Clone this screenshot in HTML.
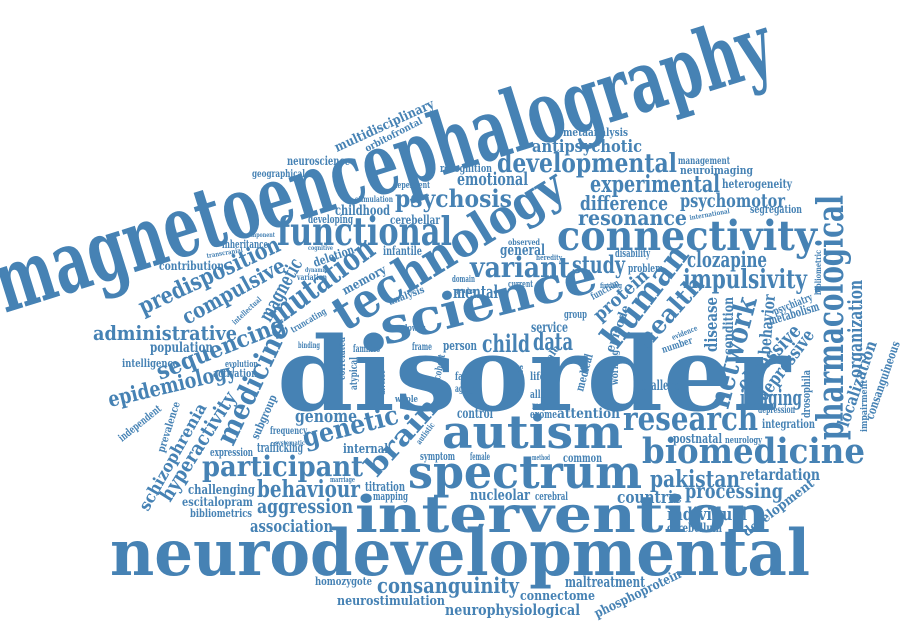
<!DOCTYPE html>
<html>
<head>
<meta charset="utf-8">
<style>
html,body{margin:0;padding:0;background:#fff;}
svg{display:block;}
text{font-family:"DejaVu Serif","Liberation Serif",serif;font-weight:bold;fill:#4682b4;}
</style>
</head>
<body>
<svg id="cloud" width="900" height="625" viewBox="0 0 900 625" xmlns="http://www.w3.org/2000/svg"></svg>
<script>
// words: [text, x1, y1 (baseline start), x2, y2 (baseline end), font size]
const words = [
['magnetoencephalography',5,313,778,70,104],
['disorder',277,410,790,410,125],
['neurodevelopmental',110,575,810,575,78],
['intervention',355,532,770,532,62],
['spectrum',408,488,642,488,56],
['autism',442,448,623,448,56],
['research',623,430,758,430,40],
['biomedicine',642,463,865,463,42],
['connectivity',557,250,817,250,50],
['functional',277,245,452,245,48],
['developmental',497,172,677,172,32],
['experimental',590,192,720,192,28],
['technology',345,332,568,195,58],
['science',385,345,600,290,60],
['human',617,350,690,255,40],
['health',647,350,705,285,30],
['protein',600,322,650,277,22],
['network',728,410,757,300,36],
['disease',717,352,717,297,20],
['condition',733,355,733,297,17],
['behavior',770,355,775,295,20],
['obsessive',745,392,802,332,24],
['depressive',765,402,815,335,22],
['pharmacological',843,440,843,195,44],
['organization',862,378,862,280,24],
['localization',848,428,877,343,20],
['consanguineous',873,420,900,343,15],
['impairment',867,432,867,380,11],
['drosophila',810,418,810,370,13],
['bibliometric',821,295,821,250,10],
['metabolism',770,325,820,310,15],
['psychiatry',775,315,813,300,13],
['imaging',740,405,802,405,26],
['depression',758,413,795,413,12],
['integration',762,428,815,428,15],
['postnatal',673,443,722,443,16],
['neurology',725,443,762,443,11],
['biallelic',642,390,680,390,17],
['pakistan',650,487,740,487,28],
['retardation',740,480,820,480,19],
['processing',685,498,783,498,25],
['countrie',617,503,682,503,20],
['individual',667,520,747,520,22],
['cerebellum',667,532,722,532,15],
['development',747,537,815,485,16],
['maltreatment',565,587,645,587,18],
['phosphoprotein',597,618,682,577,16],
['connectome',520,600,595,600,16],
['neurophysiological',445,615,580,615,18],
['consanguinity',377,593,519,593,26],
['neurostimulation',337,605,445,605,16],
['homozygote',315,585,372,585,14],
['association',250,532,333,532,20],
['aggression',257,513,353,513,24],
['behaviour',257,497,360,497,28],
['challenging',188,494,255,494,16],
['escitalopram',182,506,253,506,15],
['bibliometrics',190,517,252,517,14],
['titration',365,491,405,491,16],
['mapping',373,500,408,500,13],
['marriage',330,482,355,482,9],
['participant',202,476,363,476,34],
['expression',210,456,253,456,13],
['trafficking',257,452,303,452,16],
['frequency',270,434,307,434,12],
['systematic',275,445,305,445,8],
['internal',343,453,388,453,16],
['genome',295,422,357,422,22],
['genetic',305,447,400,423,32],
['brain',377,478,440,408,34],
['medicine',233,447,290,327,34],
['subgroup',258,440,277,397,14],
['hyperactivity',170,503,237,397,24],
['schizophrenia',148,512,207,407,20],
['prevalence',164,453,180,403,13],
['independent',122,442,162,410,13],
['epidemiology',110,407,237,377,26],
['sequencing',160,380,287,330,28],
['population',150,352,213,352,17],
['intelligence',122,367,178,367,14],
['evolution',225,367,258,367,11],
['activation',213,377,257,377,13],
['administrative',93,340,237,340,24],
['predisposition',143,315,282,250,28],
['compulsive',187,325,287,270,26],
['magnetic',270,323,303,263,24],
['mutation',277,327,377,253,38],
['intellectual',235,325,262,300,9],
['truncating',293,333,327,313,11],
['binding',298,348,320,348,10],
['memory',345,295,387,272,15],
['deletion',315,267,355,253,15],
['variation',297,280,327,280,10],
['dynamic',305,272,327,272,8],
['infantile',383,255,422,255,15],
['inheritance',222,248,268,248,13],
['contribution',159,270,224,270,15],
['transcranial',207,258,243,252,8],
['cognitive',308,250,333,250,8],
['component',245,237,275,237,8],
['developing',308,223,353,223,13],
['childhood',335,215,390,215,17],
['cerebellar',390,224,440,224,15],
['stimulation',355,202,393,202,10],
['dependent',393,188,430,188,11],
['neuroscience',287,165,350,165,15],
['geographical',252,177,305,177,12],
['multidisciplinary',337,152,435,107,16],
['orbitofrontal',367,152,423,123,12],
['psychosis',395,207,512,207,30],
['emotional',457,185,528,185,22],
['recognition',440,172,492,172,13],
['antipsychotic',532,152,642,152,21],
['metaanalysis',563,136,628,136,13],
['management',678,164,730,164,12],
['neuroimaging',680,174,753,174,14],
['heterogeneity',722,188,792,188,15],
['difference',580,210,668,210,24],
['psychomotor',680,207,785,207,23],
['segregation',750,213,802,213,14],
['resonance',578,225,687,225,25],
['international',690,220,730,213,8],
['variant',470,277,570,277,34],
['study',572,273,625,273,30],
['general',500,255,545,255,18],
['observed',508,245,540,245,10],
['heredity',536,260,562,260,9],
['disability',615,257,650,257,13],
['problem',628,272,663,272,13],
['clozapine',687,267,767,267,26],
['impulsivity',683,288,807,288,32],
['mental',453,298,498,298,22],
['current',508,287,533,287,11],
['domain',452,282,475,282,11],
['child',482,352,530,352,30],
['data',533,350,573,350,30],
['service',531,332,568,332,17],
['person',443,350,477,350,16],
['families',353,352,380,352,12],
['frame',412,350,432,350,12],
['lower',405,331,425,331,11],
['correlated',345,380,345,337,13],
['atypical',357,390,357,357,12],
['control',457,418,493,418,17],
['exome',530,418,557,418,14],
['attention',557,418,620,418,17],
['nucleolar',470,500,530,500,18],
['cerebral',535,500,568,500,14],
['symptom',420,460,455,460,14],
['female',470,460,490,460,12],
['method',532,460,550,460,9],
['common',563,462,602,462,15],
['face',455,380,472,380,13],
['aging',455,392,474,392,12],
['life',530,380,545,380,14],
['allele',530,398,553,398,14],
['major',532,409,553,409,12],
['whole',395,402,418,402,11],
['analysis',390,305,425,292,12],
['gender',455,293,475,293,9],
['group',564,318,587,318,13],
['function',593,300,620,285,12],
['episode',613,353,630,307,15],
['working',618,385,618,350,12],
['medical',583,392,593,355,14],
['male',545,370,560,348,12],
['number',663,353,693,343,12],
['evidence',673,340,698,330,9],
['finding',600,288,622,288,9],
['studies',523,395,523,365,11],
['cohort',440,380,445,355,12],
['diverse',385,395,385,370,11],
['autistic',420,445,435,425,10]
];
// global size factor: reference typeface is wider than the local serif
const sizeScale = 0.82;

const svg = document.getElementById('cloud');
const NS = 'http://www.w3.org/2000/svg';
for (const w of words) {
  const [txt, x1, y1, x2, y2, fs] = w;
  const len = Math.hypot(x2 - x1, y2 - y1);
  const ang = Math.atan2(y2 - y1, x2 - x1) * 180 / Math.PI;
  const t = document.createElementNS(NS, 'text');
  
  
  t.setAttribute('x', x1);
  t.setAttribute('y', y1);
  t.setAttribute('font-size', (fs * sizeScale).toFixed(1));
  t.setAttribute('textLength', len.toFixed(1));
  t.setAttribute('lengthAdjust', 'spacingAndGlyphs');
  if (Math.abs(ang) > 0.01) t.setAttribute('transform', 'rotate(' + ang.toFixed(2) + ' ' + x1 + ' ' + y1 + ')');
  t.textContent = txt;
  svg.appendChild(t);
}
</script>
</body>
</html>
